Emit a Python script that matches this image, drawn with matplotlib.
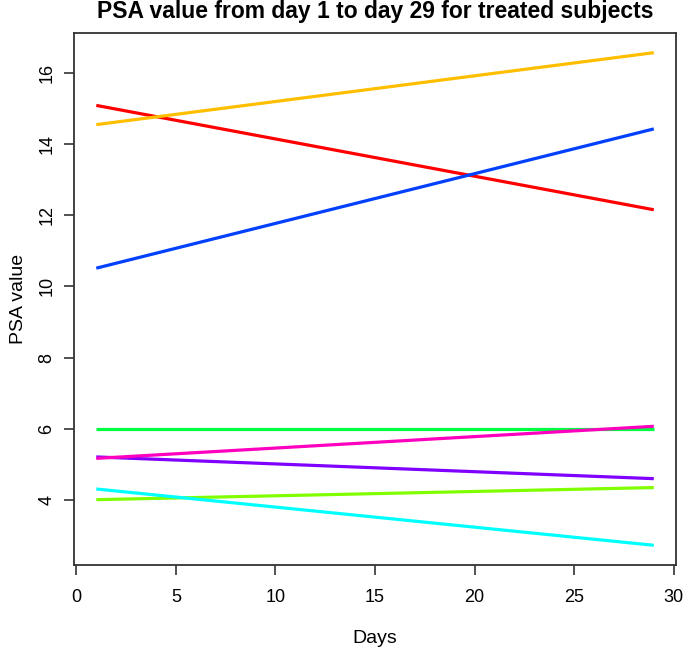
import matplotlib
matplotlib.use("Agg")
import matplotlib.pyplot as plt

plt.rcParams['font.family'] = ['Liberation Sans', 'DejaVu Sans']

days = [1, 29]
red = [15.08, 12.15]
orange = [14.54, 16.56]
lightgreen = [4.01, 4.35]
green = [6.0, 6.0]
cyan = [4.31, 2.73]
blue = [10.51, 14.42]
purple = [5.21, 4.60]
magenta = [5.17, 6.07]

series = [red, orange, lightgreen, green, cyan, blue, purple, magenta]
colors = ["#FF0000", "#FFBF00", "#80FF00", "#00FF40",
          "#00FFFF", "#0040FF", "#8000FF", "#FF00BF"]

xticks = [0, 5, 10, 15, 20, 25, 30]
yticks = [4, 6, 8, 10, 12, 14, 16]

fig = plt.figure(figsize=(6.85, 6.53), dpi=100)
ax = fig.add_axes([0.108, 0.1348, 0.879, 0.8147])

for vals, c in zip(series, colors):
    ax.plot(days, vals, color=c, linewidth=2.3, solid_capstyle='butt')

allv = [v for s in series for v in s]
ymin, ymax = min(allv), max(allv)
yr = ymax - ymin
ax.set_ylim(ymin - 0.04 * yr, ymax + 0.04 * yr)
xr = days[-1] - days[0]
ax.set_xlim(days[0] - 0.04 * xr, days[-1] + 0.04 * xr)

ax.set_xticks(xticks)
ax.set_yticks(yticks)
ax.set_xticklabels([str(t) for t in xticks], fontsize=13)
ax.set_yticklabels([str(t) for t in yticks], fontsize=13, rotation=90, va='center')
ax.tick_params(direction='out', length=7.5, width=1.2, color='#333333')
ax.tick_params(axis='x', pad=10)
ax.tick_params(axis='y', pad=6)

for sp in ax.spines.values():
    sp.set_linewidth(1.3)
    sp.set_color('#333333')

ax.set_xlabel("Days", fontsize=14, labelpad=17)
ax.set_ylabel("PSA value", fontsize=14, labelpad=8)
ax.set_title("PSA value from day 1 to day 29 for treated subjects",
             fontsize=16.5, fontweight='bold', pad=11)

fig.savefig("out.png", dpi=100)
